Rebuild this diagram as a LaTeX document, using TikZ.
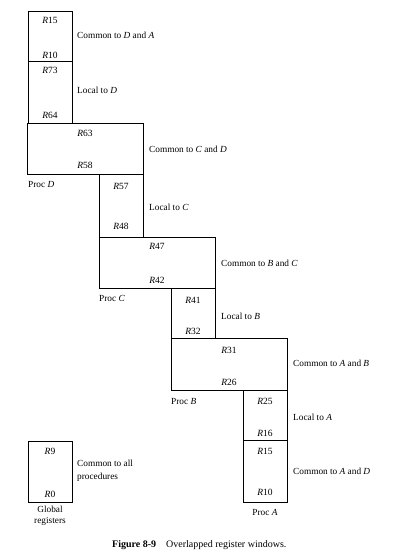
\documentclass[tikz,border=0pt]{standalone}
\usepackage{fontspec}
\setmainfont{Liberation Serif}
\begin{document}
\begin{tikzpicture}[x=1pt,y=-1pt,
  win/.style={draw,line width=0.8pt,inner sep=0pt,anchor=north west},
  reg/.style={font=\fontsize{9.5}{11}\selectfont\itshape,inner sep=0pt},
  note/.style={font=\fontsize{9.3}{11}\selectfont,inner sep=0pt,anchor=west,align=left},
  proc/.style={font=\fontsize{9.3}{11}\selectfont,inner sep=0pt,anchor=west},
]
\useasboundingbox (0,0) rectangle (410,559);

% register windows, top to bottom
\node[win,minimum width=44pt,minimum height=50pt] (cda) at (28,11) {};
\node[win,minimum width=44pt,minimum height=62pt] (ld)  at (28,61) {};
\node[win,minimum width=116pt,minimum height=51pt] (ccd) at (27,123) {};
\node[win,minimum width=44pt,minimum height=63pt] (lc)  at (99,174) {};
\node[win,minimum width=116pt,minimum height=51pt] (cbc) at (99,237) {};
\node[win,minimum width=44pt,minimum height=50pt] (lb)  at (171,288) {};
\node[win,minimum width=116pt,minimum height=52pt] (cab) at (171,338) {};
\node[win,minimum width=44pt,minimum height=50pt] (la)  at (243,390) {};
\node[win,minimum width=44pt,minimum height=62pt] (cad) at (243,440) {};
\node[win,minimum width=44pt,minimum height=61pt] (glob) at (28,441) {};

% register numbers
\node[reg] (r15a) at (50,20) {R\textup{15}};
\node[reg] (r10a) at (50,55) {R\textup{10}};
\node[reg] (r73) at (50,70) {R\textup{73}};
\node[reg] (r64) at (50,115) {R\textup{64}};
\node[reg] (r63) at (85,133) {R\textup{63}};
\node[reg] (r58) at (85,165) {R\textup{58}};
\node[reg] (r57) at (121,186) {R\textup{57}};
\node[reg] (r48) at (121,226) {R\textup{48}};
\node[reg] (r47) at (157,246) {R\textup{47}};
\node[reg] (r42) at (157,280) {R\textup{42}};
\node[reg] (r41) at (193,300) {R\textup{41}};
\node[reg] (r32) at (193,331) {R\textup{32}};
\node[reg] (r31) at (229,350) {R\textup{31}};
\node[reg] (r26) at (229,382) {R\textup{26}};
\node[reg] (r25) at (265,401) {R\textup{25}};
\node[reg] (r16) at (265,433) {R\textup{16}};
\node[reg] (r15b) at (265,451) {R\textup{15}};
\node[reg] (r10b) at (265,492) {R\textup{10}};
\node[reg] (r9) at (50,451) {R\textup{9}};
\node[reg] (r0) at (50,494) {R\textup{0}};

% window descriptions
\node[note] (tcda) at (77,35) {Common to \textit{D} and \textit{A}};
\node[note] (tld)  at (77,90) {Local to \textit{D}};
\node[note] (tccd) at (149,149) {Common to \textit{C} and \textit{D}};
\node[note] (tlc)  at (149,207) {Local to \textit{C}};
\node[note] (tcbc) at (221,263) {Common to \textit{B} and \textit{C}};
\node[note] (tlb)  at (221,316) {Local to \textit{B}};
\node[note] (tcab) at (293,363) {Common to \textit{A} and \textit{B}};
\node[note] (tla)  at (293,417) {Local to \textit{A}};
\node[note] (tcad) at (293,471) {Common to \textit{A} and \textit{D}};
\node[note,font=\fontsize{9.3}{12.5}\selectfont] (tglob) at (77,471) {Common to all\\procedures};

% procedure names
\node[proc] (pd) at (28,184) {Proc \textit{D}};
\node[proc] (pc) at (99,298) {Proc \textit{C}};
\node[proc] (pb) at (171,401) {Proc \textit{B}};
\node[proc,anchor=center] (pa) at (265,512) {Proc \textit{A}};
\node[font=\fontsize{9.3}{11}\selectfont,inner sep=0pt,align=center,anchor=north] (gl) at (50,506) {Global\\registers};

% caption
\node[font=\fontsize{10}{12}\selectfont,inner sep=0pt,anchor=west] (cap) at (112,545)
  {\textbf{Figure 8-9}\quad Overlapped register windows.};
\end{tikzpicture}
\end{document}
